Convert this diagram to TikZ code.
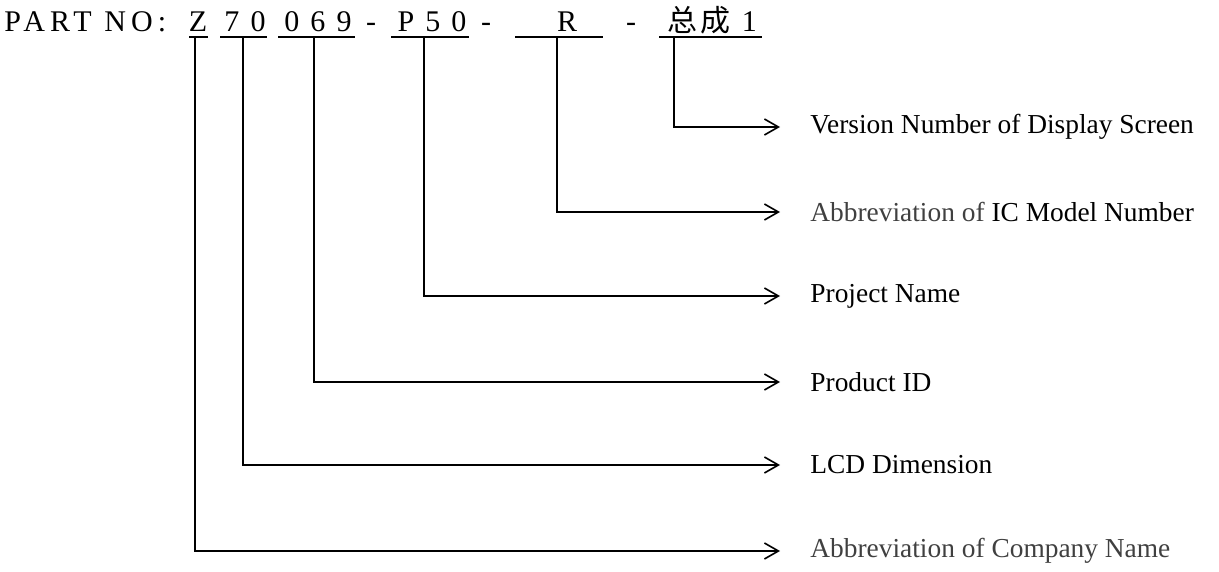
\documentclass[tikz,border=0pt]{standalone}
\usepackage{fontspec}
\setmainfont{Liberation Serif}
\newfontfamily\partfont[LetterSpace=12]{Liberation Serif}
\newfontfamily\titlefont[LetterSpace=17]{Liberation Serif}
\newfontfamily\cjk[LetterSpace=12]{Noto Sans CJK SC}
\usepackage{tikz}
\usetikzlibrary{arrows.meta}
\usepackage{xcolor}
\definecolor{abbrgray}{HTML}{404040}

\begin{document}
\begin{tikzpicture}[
    x=0.5pt, y=-0.5pt,
    code/.style={inner sep=0pt, anchor=base, font=\partfont\fontsize{15}{17}\selectfont},
    desc/.style={inner sep=0pt, anchor=west, font=\fontsize{13.7}{16}\selectfont},
    uline/.style={line width=0.7pt},
    lead/.style={line width=0.9pt, -{Straight Barb[length=7pt, width=8pt, line width=0.8pt]}}
]
    \useasboundingbox (0,0) rectangle (1219,572);

    % Part number
    \node[code, anchor=base west, font=\titlefont\fontsize{15}{17}\selectfont] (title) at (4,32) {PART NO:};
    \foreach \name/\txt/\xt/\xa/\xb/\tap in {
        z/Z/198/189/208/195,
        dim/7 0/245/220/267/243,
        id/0 6 9/318/278/355/314,
        proj/P 5 0/432/391/469/424,
        ic/R/567/515/603/557,
        ver/{{\cjk 总成} 1}/712/659/762/674} {
        \node[code] (\name-code) at (\xt,32) {\txt};
        \draw[uline] (\xa,37) -- (\xb,37);
        \coordinate (\name-tap) at (\tap,37);
    }
    \foreach \name/\x in {d1/371, d2/486, d3/631} {
        \node[code] (\name) at (\x,32) {-};
    }

    % Descriptions
    \foreach \name/\y/\txt in {
        ver/127/Version Number of Display Screen,
        ic/212/{{\color{abbrgray}Abbreviation of} IC Model Number},
        proj/296/Project Name,
        id/382/Product ID,
        dim/465/LCD Dimension,
        z/551/{\color{abbrgray}Abbreviation of Company Name}} {
        \node[desc] (\name-lbl) at (810,\y) {\txt};
        \draw[lead] (\name-tap) |- ([xshift=-15pt]\name-lbl.west);
    }
\end{tikzpicture}
\end{document}
